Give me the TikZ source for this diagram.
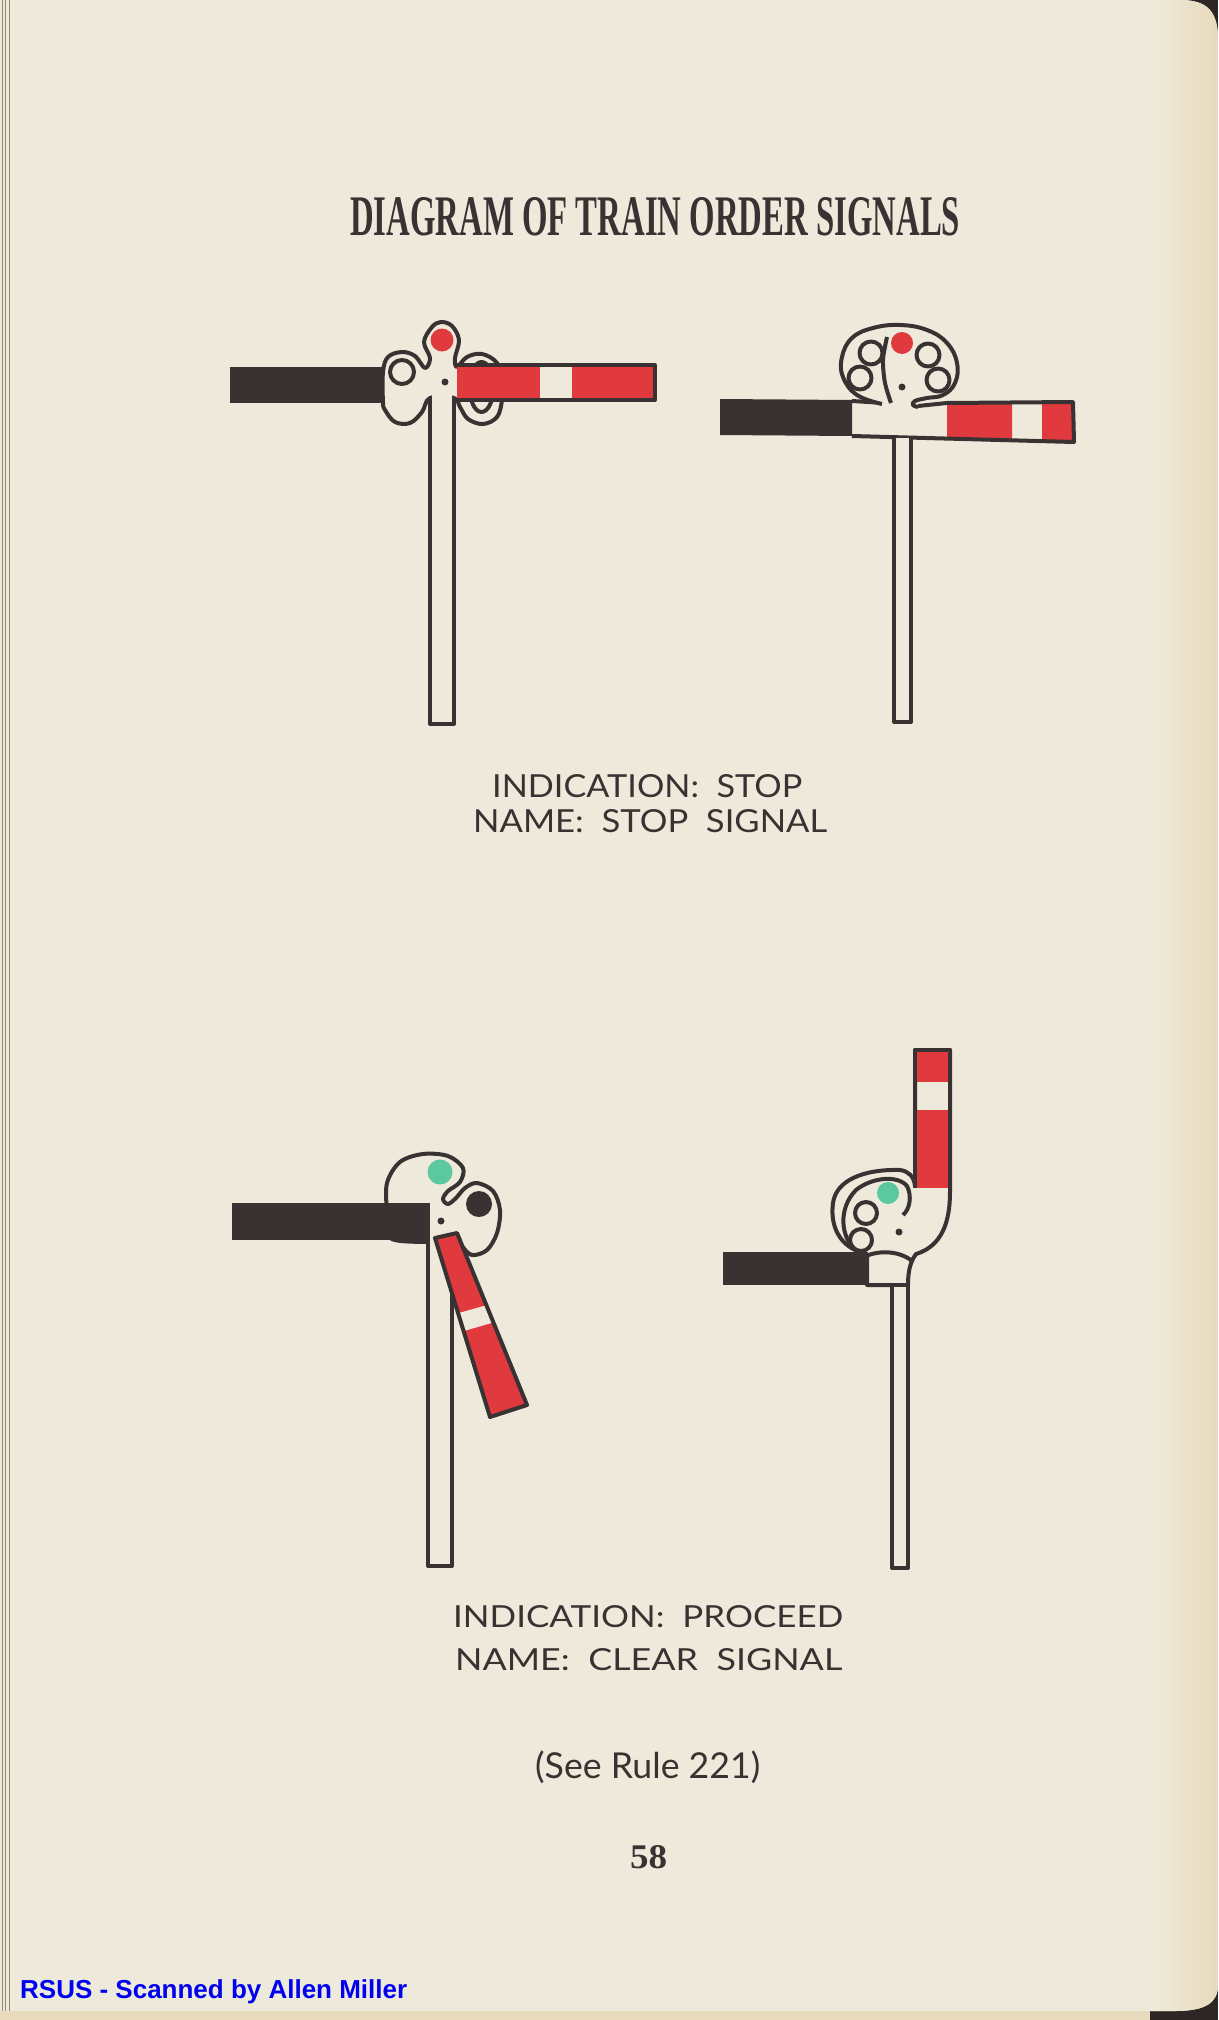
\documentclass[tikz,border=0pt]{standalone}
\usepackage{graphicx}
\usepackage{fontspec}
\setmainfont{Liberation Serif}
\newfontfamily\gillfont{Lato}
\newfontfamily\scanfont{Liberation Sans}
\usetikzlibrary{calc}
\definecolor{paper}{RGB}{238,234,219}
\definecolor{pageedge}{RGB}{232,218,188}
\definecolor{ink}{RGB}{56,50,50}
\definecolor{sigred}{RGB}{224,58,62}
\definecolor{siggreen}{RGB}{92,200,160}
\definecolor{scanblue}{RGB}{0,0,240}
\definecolor{bindline}{RGB}{150,135,110}
\definecolor{corner}{RGB}{45,38,36}

\begin{document}
\begin{tikzpicture}[x=1pt,y=-1pt,
	sigline/.style={draw=ink,line width=4pt,line join=round},
	sigbody/.style={sigline,fill=paper},
	caption/.style={inner sep=0pt,anchor=base west,text=ink}]

	% page
	\useasboundingbox (0,0) rectangle (1218,2020);
	\fill[pageedge] (0,0) rectangle (1218,2020);
	\fill[corner] (1160,0) rectangle (1218,70);
	\fill[corner] (1150,1985) rectangle (1218,2020);
	\begin{scope}
		\clip (0,0) -- (1180,0) .. controls (1208,0) and (1218,12) .. (1218,40) -- (1218,1985) .. controls (1218,2003) and (1205,2011) .. (1175,2011) -- (0,2011) -- cycle;
		\fill[paper] (0,0) rectangle (1218,2020);
		\shade[left color=paper,right color=pageedge] (1150,0) rectangle (1218,2020);
	\end{scope}
	\foreach \x in {2,5,9} \draw[bindline,line width=0.8pt] (\x,0) -- (\x,2011);

	% stop signal, left
	\fill[ink] (230,367) rectangle (386,403);
	\path[sigbody] plot[smooth cycle,tension=.6] coordinates {(383,372) (388,357) (402,352) (415,356) (425,368) (430,358) (424,342) (432,327) (441,322) (452,326) (459,340) (455,358) (457,367) (467,357) (482,354) (497,363) (502,382) (502,400) (497,417) (483,424) (468,419) (460,407) (454,398) (430,398) (422,412) (410,423) (395,422) (385,410) (383,402)};
	\draw[sigline] (402,372) circle[radius=12];
	\draw[sigline] (481.5,387) ellipse[x radius=12,y radius=25];
	\fill[sigred] (442,340) circle[radius=11.5];
	\fill[paper] (432,393) rectangle (452,724);
	\draw[sigline] (430,398) -- (430,724) -- (454,724) -- (454,398);
	\fill[ink] (445,382) circle[radius=3.5];
	\fill[sigred] (457,365) rectangle (540,400);
	\fill[sigred] (572,365) rectangle (655,400);
	\draw[sigline] (457,365) -- (655,365) -- (655,400) -- (457,400);

	% stop signal, right
	\fill[ink] (720,399) -- (852,400) -- (852,436) -- (720,435) -- cycle;
	\fill[sigred] (947,402) -- (1012,402) -- (1012,440) -- (947,439) -- cycle;
	\fill[sigred] (1042,402) -- (1073,402) -- (1074,442) -- (1042,441) -- cycle;
	\draw[sigline] (852,401) -- (884,403);
	\draw[sigline] (918,406) -- (947,403) -- (1073,402) -- (1074,442) -- (852,436);
	\fill[paper] plot[smooth,tension=.7] coordinates {(882,404) (857,395) (843,377) (842,357) (852,338) (873,328) (900,325) (927,330) (947,343) (957,363) (955,383) (943,395) (927,398) (915,401) (913,405) (918,407)} -- (918,412) -- (882,412) -- cycle;
	\draw[sigline] plot[smooth,tension=.7] coordinates {(882,404) (857,395) (843,377) (842,357) (852,338) (873,328) (900,325) (927,330) (947,343) (957,363) (955,383) (943,395) (927,398) (915,401) (913,405) (918,407)};
	\draw[sigline] plot[smooth] coordinates {(887,337) (883,360) (885,383) (891,403)};
	\fill[sigred] (902,343) circle[radius=11];
	\foreach \cx/\cy in {871/353,860/378,928/355,938/380}
		\draw[sigline] (\cx,\cy) circle[radius=11.5];
	\fill[ink] (902,387) circle[radius=3.5];
	\fill[paper] (896,438) rectangle (909,722);
	\draw[sigline] (894,437) -- (894,722) -- (911,722) -- (911,438);

	% clear signal, left
	\path[sigbody] plot[smooth cycle,tension=.55] coordinates {(387,1212) (387,1183) (400,1162) (423,1154) (448,1156) (463,1168) (460,1182) (448,1191) (443,1199) (448,1204) (456,1198) (465,1188) (477,1183) (493,1191) (500,1210) (497,1233) (487,1250) (472,1255) (462,1246) (457,1236) (445,1241) (428,1242) (390,1238)};
	\fill[ink] (232,1203) rectangle (430,1240);
	\fill[paper] (430,1238) rectangle (450,1566);
	\draw[sigline] (428,1240) -- (428,1566) -- (452,1566) -- (452,1236);
	\coordinate (b3a) at (435,1238);
	\coordinate (b3b) at (457,1233);
	\coordinate (b3c) at (527,1405);
	\coordinate (b3d) at (490,1417);
	\fill[sigred] (b3a) -- (b3b) -- (b3c) -- (b3d) -- cycle;
	\fill[paper] ($(b3a)!.42!(b3d)$) -- ($(b3b)!.42!(b3c)$) -- ($(b3b)!.52!(b3c)$) -- ($(b3a)!.52!(b3d)$) -- cycle;
	\draw[sigline] (b3a) -- (b3b) -- (b3c) -- (b3d) -- cycle;
	\fill[siggreen] (440,1172) circle[radius=12.5];
	\fill[ink] (479,1204) circle[radius=13];
	\fill[ink] (441,1221) circle[radius=3.5];

	% clear signal, right
	\path[sigbody] (867,1254) .. controls (838,1248) and (830,1224) .. (833,1203) .. controls (836,1181) and (862,1169) .. (900,1170) .. controls (908,1171) and (914,1176) .. (915,1186) -- (915,1050) -- (950,1050) -- (950,1192) .. controls (950,1222) and (942,1246) .. (916,1254) .. controls (910,1262) and (908,1272) .. (908,1285) -- (867,1285) -- cycle;
	\fill[sigred] (917,1052) rectangle (948,1082);
	\fill[sigred] (917,1110) rectangle (948,1188);
	\draw[sigline] (915,1188) -- (915,1050) -- (950,1050) -- (950,1192);
	\fill[ink] (723,1252) rectangle (867,1285);
	\draw[sigline] (866,1256) .. controls (880,1250) and (900,1251) .. (912,1261);
	\draw[sigline] (857,1251) .. controls (840,1238) and (838,1208) .. (856,1190) .. controls (872,1177) and (898,1175) .. (907,1186) .. controls (912,1196) and (910,1209) .. (903,1215);
	\fill[siggreen] (888,1193) circle[radius=11];
	\foreach \cx/\cy in {866/1213,861/1240}
		\draw[sigline] (\cx,\cy) circle[radius=11];
	\fill[ink] (899,1232) circle[radius=3.5];
	\fill[paper] (894,1287) rectangle (906,1568);
	\draw[sigline] (892,1285) -- (892,1568) -- (908,1568) -- (908,1285);

	% texts
	\node[caption] (title) at (350,235) {\resizebox{610pt}{38pt}{\bfseries DIAGRAM OF TRAIN ORDER SIGNALS}};
	\node[caption,font=\gillfont] (stopind) at (492,797) {\resizebox{310pt}{23pt}{INDICATION:\ \ STOP}};
	\node[caption,font=\gillfont] (stopname) at (473,832) {\resizebox{354pt}{23pt}{NAME:\ \ STOP\ \ SIGNAL}};
	\node[caption,font=\gillfont] (clearind) at (453,1627) {\resizebox{390pt}{22pt}{INDICATION:\ \ PROCEED}};
	\node[caption,font=\gillfont] (clearname) at (455,1670) {\resizebox{387pt}{22pt}{NAME:\ \ CLEAR\ \ SIGNAL}};
	\node[caption,font=\gillfont] (rule) at (535,1778) {\resizebox{225pt}{!}{(See Rule 221)}};
	\node[caption] (pagenum) at (630,1868) {\resizebox{37pt}{23pt}{\bfseries 58}};
	\node[caption,text=scanblue,font=\scanfont\bfseries] (scan) at (20,1998) {\resizebox{387pt}{!}{RSUS - Scanned by Allen Miller}};

\end{tikzpicture}
\end{document}
